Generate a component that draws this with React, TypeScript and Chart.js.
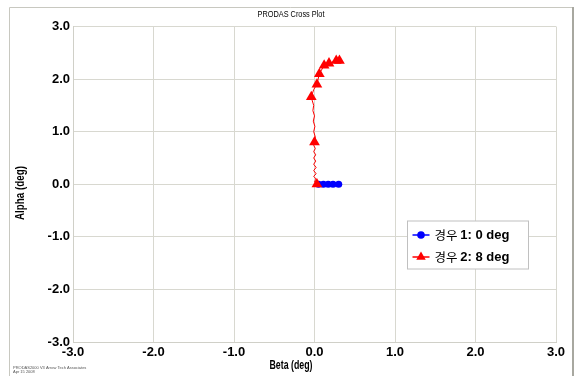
import React, { useEffect, useRef } from 'react';
import { Chart, registerables } from 'chart.js';

Chart.register(...registerables);

const chartTitle = 'PRODAS Cross Plot';
const xAxisTitle = 'Beta (deg)';
const yAxisTitle = 'Alpha (deg)';
const axisMin = -3;
const axisMax = 3;
const axisStep = 1;
const footerLines = ['PRODAS2000 V3 Arrow Tech Associates', 'Apr 15 2008'];

const case1Label = '경우 1: 0 deg';
const case1Beta = [0.05, 0.11, 0.17, 0.23, 0.3];
const case1Alpha = [0, 0, 0, 0, 0];
const case1Marker = [true, true, true, true, true];

const case2Label = '경우 2: 8 deg';
const case2Beta = [
  0.03, 0.0, 0.02, -0.01, 0.02, -0.01, 0.02, -0.01, 0.015, -0.01, 0.015, -0.01, 0.01, -0.01,
  0.0, 0.01, -0.01, 0.005, -0.015, 0.0, -0.02, -0.01, -0.03, -0.04, -0.01, 0.03, 0.06, 0.12,
  0.18, 0.27, 0.31,
];
const case2Alpha = [
  0.0, 0.05, 0.1, 0.15, 0.2, 0.26, 0.32, 0.38, 0.44, 0.5, 0.56, 0.62, 0.68, 0.74,
  0.8, 0.9, 1.0, 1.1, 1.2, 1.3, 1.4, 1.5, 1.6, 1.66, 1.8, 1.9, 2.1, 2.26,
  2.3, 2.35, 2.35,
];
const case2Marker = [
  true, false, false, false, false, false, false, false, false, false, false, false, false, false,
  true, false, false, false, false, false, false, false, false, true, false, true, true, true,
  true, true, true,
];

const FONT = "'Liberation Sans', Arial, sans-serif";

const overlayPlugin = {
  id: 'overlay',
  beforeDraw(chart: any) {
    const ctx = chart.ctx;
    ctx.save();
    ctx.fillStyle = '#ffffff';
    ctx.fillRect(0, 0, chart.width, chart.height);
    ctx.strokeStyle = '#c8c8c0';
    ctx.lineWidth = 1;
    ctx.beginPath();
    ctx.moveTo(9.5, chart.height + 5);
    ctx.lineTo(9.5, 7.5);
    ctx.lineTo(572, 7.5);
    ctx.stroke();
    ctx.strokeStyle = '#a8a8a0';
    ctx.lineWidth = 2;
    ctx.beginPath();
    ctx.moveTo(573, 7);
    ctx.lineTo(573, chart.height + 5);
    ctx.stroke();
    ctx.restore();
  },
  afterDraw(chart: any) {
    const ctx = chart.ctx;
    const area = chart.chartArea;
    const midX = 291;
    ctx.save();
    // titles
    ctx.fillStyle = '#000000';
    ctx.textAlign = 'center';
    ctx.textBaseline = 'middle';
    ctx.font = '9px ' + FONT;
    ctx.fillText(chartTitle, midX, 15, 67);
    ctx.font = 'bold 12px ' + FONT;
    ctx.fillText(xAxisTitle, midX, 366, 43);
    ctx.save();
    ctx.translate(20, 193);
    ctx.rotate(-Math.PI / 2);
    ctx.font = 'bold 13px ' + FONT;
    ctx.fillText(yAxisTitle, 0, 0, 54);
    ctx.restore();
    // legend
    const bx = area.right - 148.5;
    const by = area.top + 194.5;
    const bw = 121;
    const bh = 48;
    ctx.fillStyle = '#ffffff';
    ctx.fillRect(bx, by, bw, bh);
    ctx.strokeStyle = '#c0c0c0';
    ctx.lineWidth = 1;
    ctx.strokeRect(bx, by, bw, bh);
    chart.data.datasets.forEach((ds: any, i: number) => {
      const rowY = by + 14 + i * 22;
      const sx = bx + 5;
      ctx.strokeStyle = ds.borderColor;
      ctx.lineWidth = 1.5;
      ctx.beginPath();
      ctx.moveTo(sx, rowY);
      ctx.lineTo(sx + 17, rowY);
      ctx.stroke();
      ctx.fillStyle = ds.backgroundColor;
      const cx = sx + 8.5;
      if (ds.pointStyle === 'triangle') {
        const r = 5.5;
        ctx.beginPath();
        ctx.moveTo(cx, rowY - r);
        ctx.lineTo(cx + r * 0.866, rowY + r * 0.5);
        ctx.lineTo(cx - r * 0.866, rowY + r * 0.5);
        ctx.closePath();
        ctx.fill();
      } else {
        ctx.beginPath();
        ctx.arc(cx, rowY, 3.8, 0, Math.PI * 2);
        ctx.fill();
      }
      const label: string = ds.label;
      const sp = label.indexOf(' ');
      const first = label.slice(0, sp + 1);
      const rest = label.slice(sp + 1);
      ctx.fillStyle = '#000000';
      ctx.textBaseline = 'middle';
      ctx.textAlign = 'left';
      ctx.font = "12.5px 'Noto Sans CJK KR', sans-serif";
      const tx = bx + 27;
      ctx.fillText(first, tx, rowY);
      const w = ctx.measureText(first).width;
      ctx.font = 'bold 13px ' + FONT;
      ctx.fillText(rest, tx + w, rowY + 0.5);
    });
    // footer
    ctx.fillStyle = '#555555';
    ctx.font = '4px ' + FONT;
    ctx.textAlign = 'left';
    ctx.textBaseline = 'alphabetic';
    ctx.fillText(footerLines[0], 13, 368.5);
    ctx.fillText(footerLines[1], 13, 372.5);
    ctx.restore();
  },
};

export default function App() {
  const canvasRef = useRef<HTMLCanvasElement | null>(null);

  useEffect(() => {
    document.body.style.margin = '0';
    const canvas = canvasRef.current;
    if (!canvas) return;
    const mk = (xs: number[], ys: number[]) => xs.map((x, i) => ({ x, y: ys[i] }));
    const chart = new Chart(canvas, {
      type: 'scatter',
      data: {
        datasets: [
          {
            label: case1Label,
            data: mk(case1Beta, case1Alpha),
            showLine: true,
            borderColor: '#0000ff',
            backgroundColor: '#0000ff',
            borderWidth: 1.5,
            pointStyle: 'circle',
            pointRadius: case1Marker.map((m) => (m ? 3.6 : 0)),
            pointBorderWidth: 0,
            order: 1,
          },
          {
            label: case2Label,
            data: mk(case2Beta, case2Alpha),
            showLine: true,
            borderColor: '#ff0000',
            backgroundColor: '#ff0000',
            borderWidth: 1,
            pointStyle: 'triangle',
            pointRadius: case2Marker.map((m) => (m ? 6.2 : 0)),
            pointBorderWidth: 0,
            order: 0,
          },
        ],
      },
      options: {
        animation: false,
        responsive: false,
        layout: { padding: { top: 26.5, right: 25, bottom: 0, left: 0 } },
        plugins: {
          legend: { display: false },
          tooltip: { enabled: false },
          title: { display: false },
        },
        scales: {
          x: {
            type: 'linear',
            min: axisMin,
            max: axisMax,
            afterFit: (s: any) => {
              s.height = 34;
            },
            grid: { color: '#d8d8d0', drawTicks: false, lineWidth: 1 },
            border: { color: '#d0d0c8' },
            ticks: {
              stepSize: axisStep,
              padding: 3,
              color: '#000000',
              font: { family: FONT, size: 13, weight: 'bold' },
              callback: (v: any) => Number(v).toFixed(1),
              maxRotation: 0,
            },
            title: { display: false, text: xAxisTitle },
          },
          y: {
            type: 'linear',
            min: axisMin,
            max: axisMax,
            afterFit: (s: any) => {
              s.width = 73;
            },
            grid: { color: '#d8d8d0', drawTicks: false, lineWidth: 1 },
            border: { color: '#d0d0c8' },
            ticks: {
              stepSize: axisStep,
              padding: 3,
              color: '#000000',
              font: { family: FONT, size: 13, weight: 'bold' },
              callback: (v: any) => Number(v).toFixed(1),
            },
            title: { display: false, text: yAxisTitle },
          },
        },
      },
      plugins: [overlayPlugin],
    });
    return () => chart.destroy();
  }, []);

  return (
    <div style={{ position: 'relative', width: 581, height: 376 }}>
      <canvas ref={canvasRef} width={581} height={376} style={{ display: 'block', width: 581, height: 376 }} />
    </div>
  );
}
